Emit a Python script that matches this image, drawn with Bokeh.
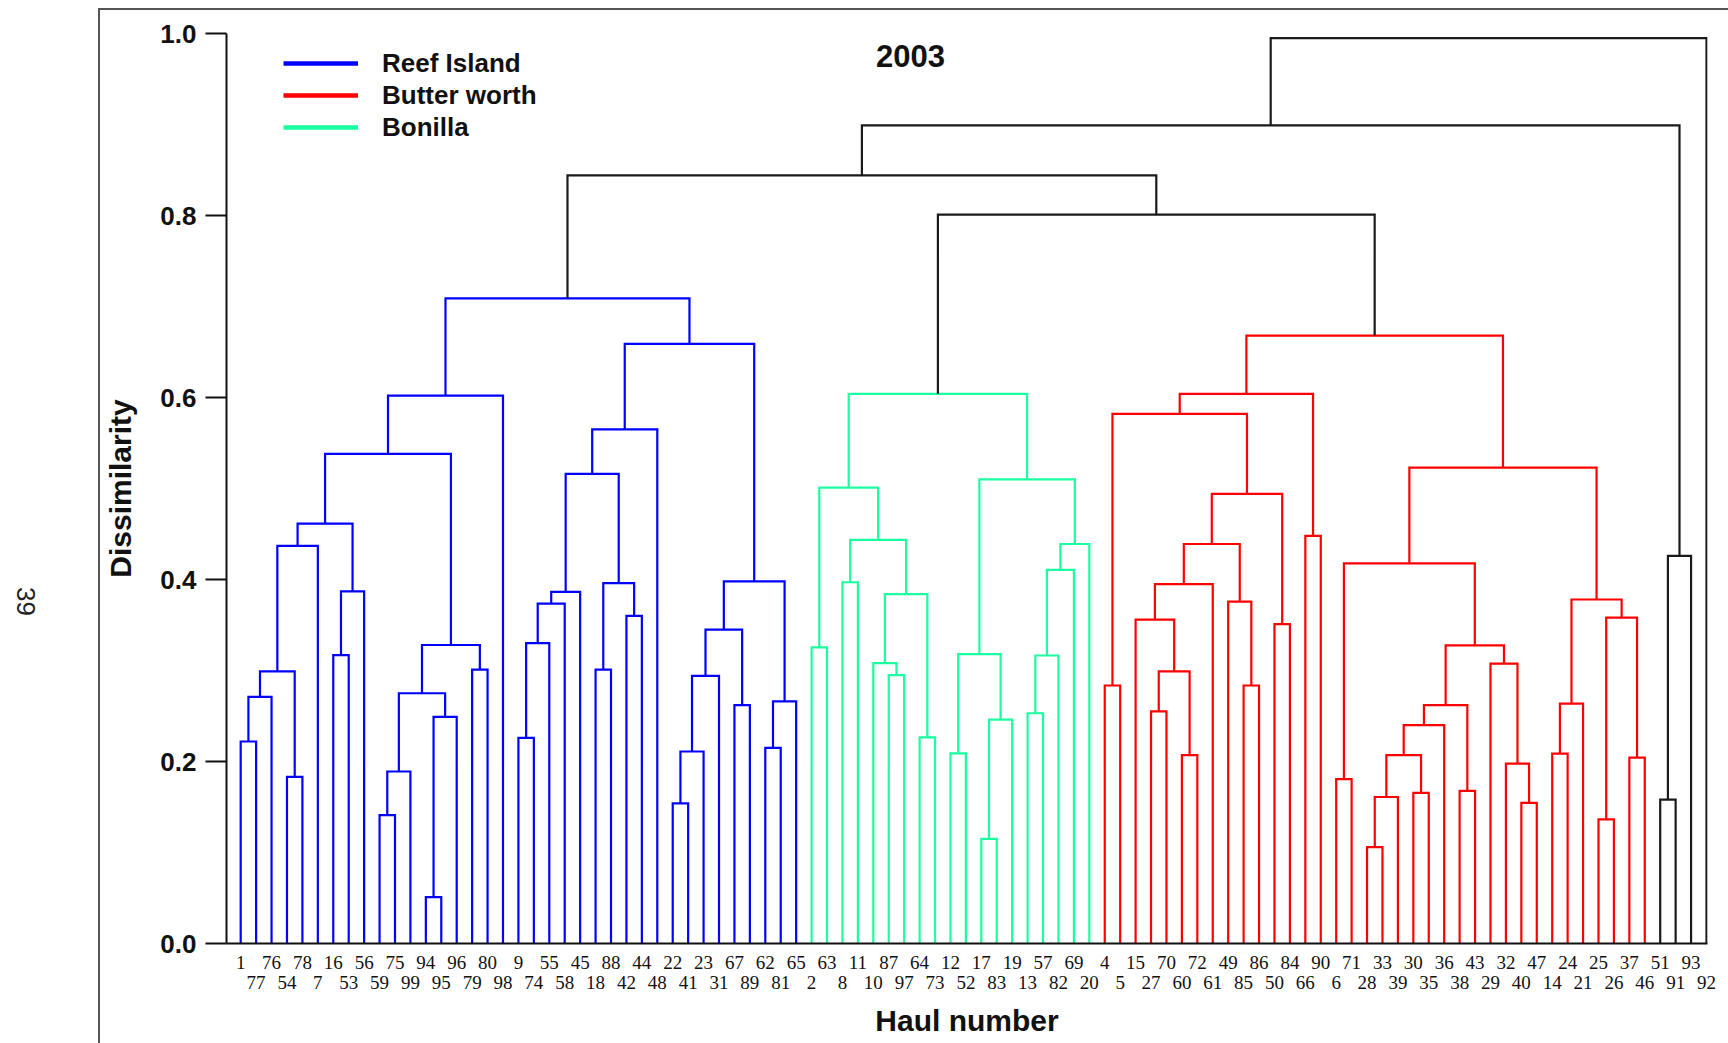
import math
from bokeh.plotting import figure
from bokeh.models import (FixedTicker, LinearAxis, Range1d, Legend, LegendItem, Label,
                          NumeralTickFormatter, InlineStyleSheet)
from bokeh.embed import file_html
from bokeh.resources import INLINE

# ---------------- data ----------------
title_text = "2003"
x_title = "Haul number"
y_title = "Dissimilarity"
page_number = "39"

# leaves in dendrogram order
leaf_labels = [
    "1", "77", "76", "54", "78", "7", "16", "53", "56", "59", "75", "99", "94", "95", "96", "79", "80", "98",
    "9", "74", "55", "58", "45", "18", "88", "42", "44", "48", "22", "41", "23", "31", "67", "89", "62", "81", "65",
    "2", "63", "8", "11", "10", "87", "97", "64", "73", "12", "52", "17", "83", "19", "13", "57", "82", "69", "20",
    "4", "5", "15", "27", "70", "60", "72", "61", "49", "85", "86", "50", "84", "66", "90", "6", "71", "28", "33", "39",
    "30", "35", "36", "38", "43", "29", "32", "40", "47", "14", "24", "21", "25", "26", "37", "46",
    "51", "91", "93", "92",
]

# groups (consecutive leaves)
group_names = ["Reef Island", "Bonilla", "Butter worth", "other"]
group_sizes = [37, 19, 36, 4]
group_colors = ["#0000ff", "#1aff9f", "#ff0000", "#1a1a1a"]
legend_order = ["Reef Island", "Butter worth", "Bonilla"]

# merges: (child a, child b, dissimilarity); ids < 96 are leaves, id 96+k is merge k
merges = [
    # Reef Island
    (0, 1, 0.222), (96, 2, 0.271), (3, 4, 0.183), (97, 98, 0.299), (99, 5, 0.437),
    (6, 7, 0.317), (101, 8, 0.387), (100, 102, 0.4615), (9, 10, 0.141), (104, 11, 0.189),
    (12, 13, 0.051), (106, 14, 0.249), (105, 107, 0.275), (15, 16, 0.301), (108, 109, 0.328),
    (103, 110, 0.538), (111, 17, 0.602), (18, 19, 0.226), (113, 20, 0.330), (114, 21, 0.3735),
    (115, 22, 0.3865), (23, 24, 0.301), (25, 26, 0.360), (117, 118, 0.396), (116, 119, 0.516),
    (120, 27, 0.565), (28, 29, 0.154), (122, 30, 0.211), (123, 31, 0.294), (32, 33, 0.262),
    (124, 125, 0.345), (34, 35, 0.215), (127, 36, 0.266), (126, 128, 0.398), (121, 129, 0.659),
    (112, 130, 0.709),
    # Bonilla
    (37, 38, 0.3255), (39, 40, 0.397), (42, 43, 0.295), (41, 134, 0.308), (44, 45, 0.2266),
    (135, 136, 0.384), (133, 137, 0.4435), (132, 138, 0.501), (46, 47, 0.209), (48, 49, 0.115),
    (141, 50, 0.246), (140, 142, 0.318), (51, 52, 0.253), (144, 53, 0.3165), (145, 54, 0.4105),
    (146, 55, 0.439), (143, 147, 0.510), (139, 148, 0.604),
    # Butter worth
    (56, 57, 0.2835), (59, 60, 0.255), (61, 62, 0.207), (151, 152, 0.299), (58, 153, 0.356),
    (154, 63, 0.395), (65, 66, 0.2835), (64, 156, 0.3757), (155, 157, 0.439), (67, 68, 0.351),
    (158, 159, 0.494), (150, 160, 0.582), (69, 70, 0.448), (161, 162, 0.604), (71, 72, 0.1807),
    (73, 74, 0.106), (165, 75, 0.161), (76, 77, 0.1655), (166, 167, 0.207), (168, 78, 0.240),
    (79, 80, 0.1677), (169, 170, 0.262), (83, 84, 0.1545), (82, 172, 0.1977), (81, 173, 0.3076),
    (171, 174, 0.3277), (164, 175, 0.4177), (85, 86, 0.2087), (177, 87, 0.2637), (88, 89, 0.1365),
    (90, 91, 0.2043), (179, 180, 0.358), (178, 181, 0.378), (176, 182, 0.523), (163, 183, 0.668),
    # outliers and upper levels
    (92, 93, 0.158), (185, 94, 0.426), (149, 184, 0.801), (131, 187, 0.844), (188, 186, 0.899),
    (189, 95, 0.995),
]

y_ticks = [0.0, 0.2, 0.4, 0.6, 0.8, 1.0]
page_number_y = 0.36

# ---------------- geometry from the tree ----------------
n = len(leaf_labels)
leaf_group = []
for g, size in enumerate(group_sizes):
    leaf_group += [g] * size

xpos = {i: float(i) for i in range(n)}
hgt = {i: 0.0 for i in range(n)}
grp = {i: leaf_group[i] for i in range(n)}
BLACK = "#1a1a1a"
paths = {}
for k, (a, b, h) in enumerate(merges):
    node = n + k
    g = grp[a] if grp[a] == grp[b] else -1
    color = group_colors[g] if g >= 0 else BLACK
    xs, ys = paths.setdefault(color, ([], []))
    xs.append([xpos[a], xpos[a], xpos[b], xpos[b]])
    ys.append([hgt[a], h, h, hgt[b]])
    xpos[node] = (xpos[a] + xpos[b]) / 2.0
    hgt[node] = h
    grp[node] = g

# ---------------- figure ----------------
p = figure(width=1726, height=1041, output_backend="svg", toolbar_location=None,
           x_range=Range1d(-0.92, 95.065), y_range=Range1d(0, 1),
           x_axis_location=None,
           min_border_left=226, min_border_top=33, min_border_right=19, min_border_bottom=98)
p.grid.visible = False
p.outline_line_color = None
p.background_fill_color = "white"
p.border_fill_color = "white"

# page frame lines (left and top edge of the scanned page)
p.stylesheets = [InlineStyleSheet(css="""
:host { position: relative; }
:host::after { content: ''; position: absolute; left: 98px; top: 8px; width: 1640px; height: 1100px;
  border-left: 2px solid #555; border-top: 2px solid #555; pointer-events: none; }
""")]

for color, (xs, ys) in paths.items():
    p.multi_line(xs=xs, ys=ys, line_color=color, line_width=2.2, line_join="miter")

# legend with thicker sample lines (renderers hold no visible point)
legend_items = []
for name in legend_order:
    gi = group_names.index(name)
    r = p.line(x=[float("nan")], y=[float("nan")], line_color=group_colors[gi], line_width=4.5)
    legend_items.append(LegendItem(label=name, renderers=[r]))
legend = Legend(items=legend_items, location=(57, 800), orientation="vertical",
                glyph_width=75, glyph_height=32, label_height=32, label_standoff=24,
                spacing=0, padding=0, margin=0, border_line_color=None,
                background_fill_alpha=0, label_text_font="Liberation Sans",
                label_text_font_size="26px", label_text_font_style="bold",
                label_text_color="#111111")
p.add_layout(legend)

# y axis
ya = p.yaxis[0]
ya.ticker = FixedTicker(ticks=y_ticks)
ya.formatter = NumeralTickFormatter(format="0.0")
ya.major_tick_out = 21
ya.major_tick_in = 0
ya.major_tick_line_width = 2
ya.major_tick_line_color = "#111111"
ya.minor_tick_line_color = None
ya.axis_line_width = 2
ya.axis_line_color = "#111111"
ya.major_label_standoff = 9
ya.major_label_text_font = "Liberation Sans"
ya.major_label_text_font_size = "26px"
ya.major_label_text_font_style = "bold"
ya.major_label_text_color = "#111111"
ya.axis_label = y_title
ya.axis_label_text_font = "Liberation Sans"
ya.axis_label_text_font_size = "30px"
ya.axis_label_text_font_style = "bold"
ya.axis_label_text_color = "#111111"
ya.axis_label_standoff = 20

# outer left axis carrying only the rotated page number
pa = LinearAxis(ticker=FixedTicker(ticks=[page_number_y]),
                major_label_overrides={page_number_y: page_number})
pa.axis_line_color = None
pa.major_tick_line_color = None
pa.minor_tick_line_color = None
pa.major_tick_out = 0
pa.major_tick_in = 0
pa.major_label_standoff = 76
pa.major_label_orientation = -math.pi / 2
pa.major_label_text_font = "Liberation Sans"
pa.major_label_text_font_size = "26px"
pa.major_label_text_color = "#222222"
p.add_layout(pa, "left")

# x axes: two rows of leaf labels
even = [i for i in range(n) if i % 2 == 0]
odd = [i for i in range(n) if i % 2 == 1]
xa1 = LinearAxis(ticker=FixedTicker(ticks=even),
                 major_label_overrides={i: leaf_labels[i] for i in even})
xa2 = LinearAxis(ticker=FixedTicker(ticks=odd),
                 major_label_overrides={i: leaf_labels[i] for i in odd})
for ax in (xa1, xa2):
    ax.major_tick_out = 0
    ax.major_tick_in = 0
    ax.major_tick_line_color = None
    ax.minor_tick_line_color = None
    ax.major_label_text_font = "Liberation Serif"
    ax.major_label_text_font_size = "19px"
    ax.major_label_text_color = "#111111"
xa1.axis_line_width = 2
xa1.axis_line_color = "#111111"
xa1.major_label_standoff = 12
xa2.axis_line_color = None
xa2.major_label_standoff = 4
xa2.axis_label = x_title
xa2.axis_label_text_font = "Liberation Sans"
xa2.axis_label_text_font_size = "30px"
xa2.axis_label_text_font_style = "bold"
xa2.axis_label_text_color = "#111111"
xa2.axis_label_standoff = 12
p.add_layout(xa1, "below")
p.add_layout(xa2, "below")

# title inside the plot area
p.add_layout(Label(x=43.41, y=0.9758, text=title_text, text_align="center",
                   text_baseline="middle", text_font="Liberation Sans",
                   text_font_size="31px", text_font_style="bold", text_color="#111111"))

open("out.html", "w").write(file_html(p, INLINE))
